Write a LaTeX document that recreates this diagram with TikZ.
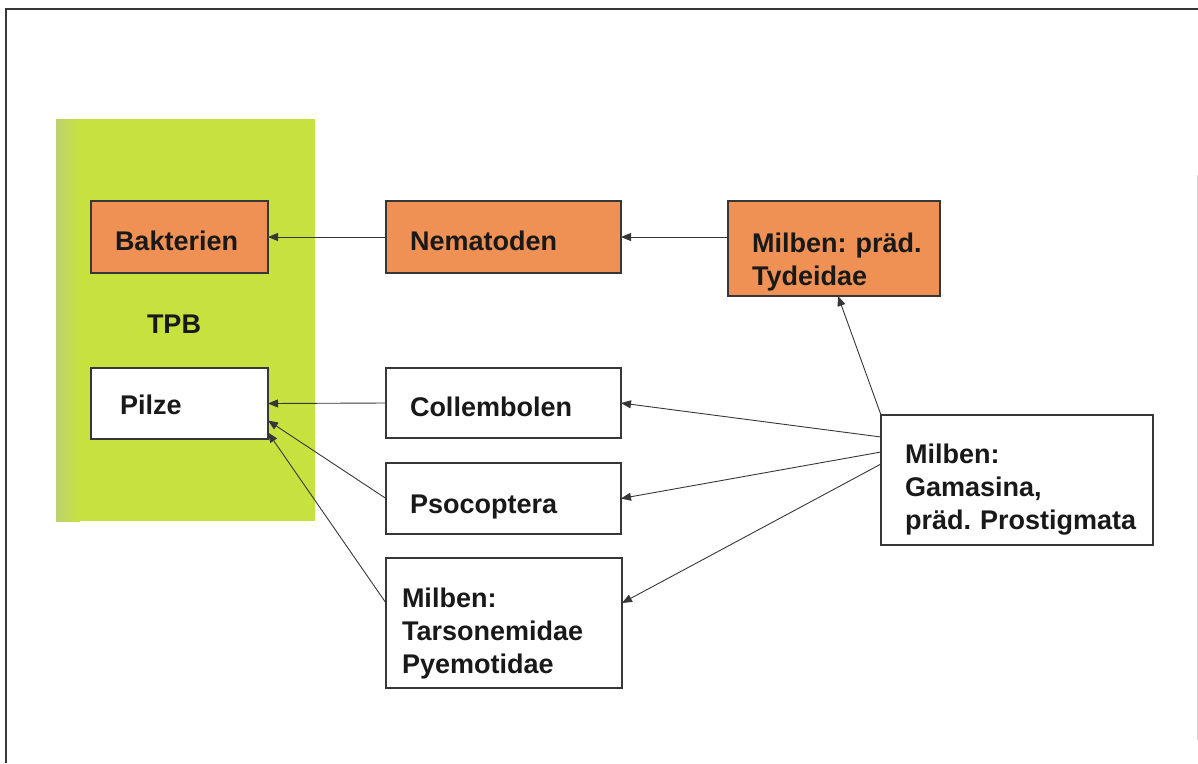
\documentclass[tikz,border=0pt]{standalone}
\usepackage{fontspec}
\setmainfont{Liberation Sans}
\usetikzlibrary{arrows.meta,calc}
\definecolor{orangebox}{RGB}{239,145,84}
\definecolor{tpbgreen}{RGB}{199,226,62}
\definecolor{tpbedge}{RGB}{188,210,112}
\definecolor{edgegray}{RGB}{55,55,55}
\definecolor{txt}{RGB}{25,25,25}
\begin{document}
\begin{tikzpicture}[x=1pt,y=-1pt,
  box/.style={draw=edgegray, line width=1.2pt, anchor=north west, inner xsep=24pt, inner ysep=0pt, outer sep=0pt, align=left, text=txt, font=\fontsize{27}{33}\selectfont\bfseries\frenchspacing, text height=26pt, text depth=0pt},
  obox/.style={box, fill=orangebox},
  wbox/.style={box, fill=white},
  arr/.style={draw=edgegray, line width=0.9pt, -{Triangle[length=10pt,width=8pt]}}
]
\useasboundingbox (0,0) rectangle (1198,763);
% frame
\draw[edgegray, line width=2pt] (6,763) -- (6,9) -- (1198,9);
\draw[gray!35, line width=1pt] (1197,175) -- (1197,740);
% TPB area
\fill[tpbgreen] (56,119) rectangle (315,521);
\shade[left color=tpbedge, right color=tpbgreen] (56,119) rectangle (80,521);
\node[font=\fontsize{27}{33}\selectfont\bfseries, text=txt] (tpb) at (174,324) {TPB};
% boxes
\node[obox, minimum width=177pt, minimum height=72pt, text width=129pt] (bak) at (91,201) {Bakterien};
\node[wbox, text height=21pt, inner xsep=29pt, minimum width=177pt, minimum height=71pt, text width=119pt] (pilze) at (91,368) {Pilze};
\node[obox, minimum width=235pt, minimum height=72pt, text width=187pt] (nem) at (386,201) {Nematoden};
\node[obox, text height=46pt, text depth=39pt, minimum width=212pt, minimum height=95pt, text width=164pt] (tyd) at (728,201) {\mbox{Milben: präd.}\\Tydeidae};
\node[wbox, minimum width=235pt, minimum height=70pt, text width=187pt] (coll) at (386,368) {Collembolen};
\node[wbox, text height=29pt, minimum width=235pt, minimum height=71pt, text width=187pt] (psoc) at (386,463) {Psocoptera};
\node[wbox, text height=41pt, text depth=72pt, inner xsep=16pt, minimum width=236pt, minimum height=130pt, text width=204pt] (tars) at (386,558) {Milben:\\Tarsonemidae\\Pyemotidae};
\node[wbox, text height=38pt, text depth=72pt, minimum width=272pt, minimum height=130pt, text width=224pt] (gam) at (881,415) {Milben:\\Gamasina,\\\mbox{präd. Prostigmata}};
% arrows
\draw[arr] (nem.west) -- (bak.east);
\draw[arr] (tyd.west |- nem.west) -- (nem.east);
\draw[arr] (gam.north west) -- ([xshift=4pt]tyd.south);
\draw[arr] ([yshift=43pt]gam.west) -- (coll.east);
\draw[arr] ([yshift=28pt]gam.west) -- (psoc.east);
\draw[arr] ([yshift=16pt]gam.west) -- ([yshift=20pt]tars.east);
\draw[arr] (coll.west) -- (pilze.east);
\draw[arr] (psoc.west) -- ([yshift=-17pt]pilze.east);
\draw[arr] ([yshift=20pt]tars.west) -- ([yshift=-29pt]pilze.east);
\end{tikzpicture}
\end{document}
